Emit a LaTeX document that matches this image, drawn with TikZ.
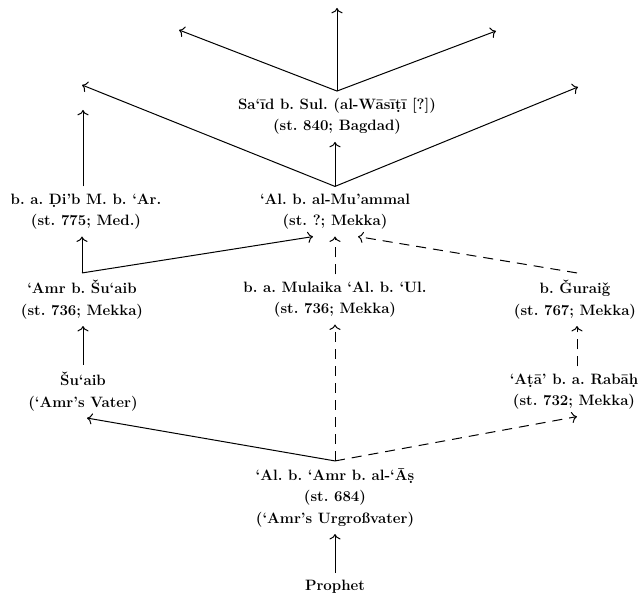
\documentclass[tikz,border=0pt]{standalone}
\usepackage{fontspec}
\usetikzlibrary{arrows.meta}

\tikzset{
  person/.style={align=center, inner sep=7pt, font=\fontsize{15}{21.5}\selectfont\bfseries\frenchspacing},
  link/.style={-{To[scale=1.4]}, line width=1pt},
  guess/.style={link, dash pattern=on 10pt off 7pt},
}

\begin{document}
\begin{tikzpicture}[x=1pt, y=-1pt]
        \useasboundingbox (0,0) rectangle (643,596);

        \node[person] (said) at (337,116.5) {Sa`\={\i}d b. Sul. (al-W\=as\={\i}\d{t}\={\i} [?])\\(st. 840; Bagdad)};
        \node[person] (dib) at (86,211.5) {b. a. \d{D}i'b M. b. `Ar.\\(st. 775; Med.)};
        \node[person] (muammal) at (335,211.5) {`Al. b. al-Mu'ammal\\(st. ?; Mekka)};
        \node[person] (amr) at (82,299.5) {`Amr b. \v{S}u`aib\\(st. 736; Mekka)};
        \node[person] (mulaika) at (335,299.5) {b. a. Mulaika `Al. b. `Ul.\\(st. 736; Mekka)};
        \node[person] (guraig) at (575,299.5) {b. \v{G}urai\v{g}\\(st. 767; Mekka)};
        \node[person] (suaib) at (83,391.5) {\v{S}u`aib\\(`Amr's Vater)};
        \node[person] (ata) at (574,391.5) {`A\d{t}\=a' b. a. Rab\=a\d{h}\\(st. 732; Mekka)};
        \node[person] (abd) at (335,497.5) {`Al. b. `Amr b. al-`\=A\d{s}\\(st. 684)\\(`Amr's Urgro\ss vater)};
        \node[person] (prophet) at (335,587) {Prophet};

        % free ends
        \coordinate (up1) at (337,8);
        \coordinate (up2) at (179,30);
        \coordinate (up3) at (496,31);
        \coordinate (up4) at (82,85);
        \coordinate (up5) at (578,87);
        \coordinate (up6) at (83,110);

        \draw[link] (prophet) -- (abd);
        \draw[link] (abd.north) -- ([xshift=4pt]suaib.south);
        \draw[guess] (abd.north) -- (mulaika.south);
        \draw[guess] (abd.north) -- ([xshift=3pt]ata.south);
        \draw[link] (suaib) -- (suaib |- amr.south);
        \draw[guess] ([xshift=3pt]ata.north) -- ([xshift=2pt]guraig.south);
        \draw[link] (amr.north) -- (amr.north |- dib.south);
        \draw[link] (amr.north) -- ([xshift=-22pt]muammal.south);
        \draw[guess] (mulaika) -- (muammal);
        \draw[guess] ([xshift=2pt]guraig.north) -- ([xshift=23pt]muammal.south);
        \draw[link] (muammal.north) -- (muammal.north |- said.south);
        \draw[link] (muammal.north) -- (up4);
        \draw[link] (muammal.north) -- (up5);
        \draw[link] (up6 |- dib.north) -- (up6);
        \draw[link] (said.north) -- (up1);
        \draw[link] (said.north) -- (up2);
        \draw[link] (said.north) -- (up3);

    \end{tikzpicture}
\end{document}
